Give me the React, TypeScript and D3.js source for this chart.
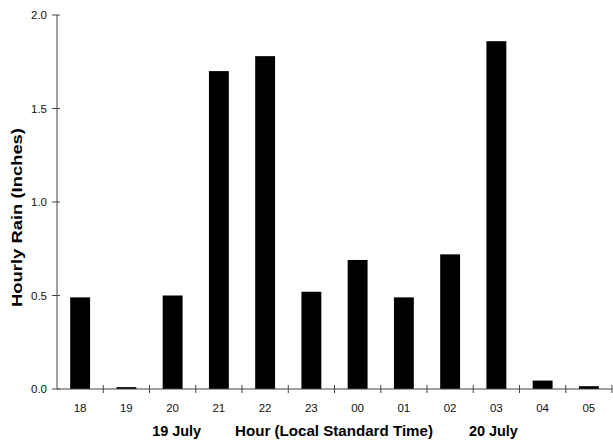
import React from 'react';
import * as d3 from 'd3';

const hours = ['18', '19', '20', '21', '22', '23', '00', '01', '02', '03', '04', '05'];
const rain = [0.49, 0.01, 0.5, 1.7, 1.78, 0.52, 0.69, 0.49, 0.72, 1.86, 0.045, 0.015];
const yTicks = [0, 0.5, 1.0, 1.5, 2.0];
const dateLabels = [
  { text: '19 July', at: '20' },
  { text: '20 July', at: '03' },
];

const W = 613;
const H = 442;
const margin = { top: 15, right: 1, bottom: 53, left: 57 };
// small nudges so the date labels sit where the original placed them
const dateNudge = [4, -3];

export default function App() {
  const x = d3.scaleBand<string>()
    .domain(hours)
    .range([margin.left, W - margin.right])
    .paddingInner(0.57)
    .paddingOuter(0.285);

  const y = d3.scaleLinear()
    .domain([0, 2])
    .range([H - margin.bottom, margin.top]);

  const step = x.step();
  const x0 = x.range()[0];
  const y0 = y(0);
  const fmt = d3.format('.1f');
  const font = 'Liberation Sans, Arial, Helvetica, sans-serif';

  return (
    <svg
      width={W}
      height={H}
      style={{ position: 'absolute', left: 0, top: 0, background: '#fff' }}
      fontFamily={font}
    >
      {/* bars */}
      {hours.map((h, i) => (
        <rect
          key={h}
          x={x(h)}
          y={y(rain[i])}
          width={x.bandwidth()}
          height={y0 - y(rain[i])}
          fill="#000"
        />
      ))}

      {/* y axis */}
      <line x1={x0} x2={x0} y1={y(2)} y2={y0} stroke="#444" strokeWidth={1} />
      {yTicks.map((t) => (
        <g key={t} transform={`translate(${x0},${y(t)})`}>
          <line x1={-5} x2={3} stroke="#444" />
          <text x={-10} dy="0.35em" textAnchor="end" fontSize={11.5} fill="#111">
            {fmt(t)}
          </text>
        </g>
      ))}

      {/* x axis */}
      <line x1={x0} x2={W - margin.right} y1={y0} y2={y0} stroke="#444" strokeWidth={1} />
      {hours.map((h, i) => (
        <line
          key={'t' + h}
          x1={x0 + (i + 1) * step}
          x2={x0 + (i + 1) * step}
          y1={y0 - 4}
          y2={y0 + 4}
          stroke="#444"
        />
      ))}
      {hours.map((h) => (
        <text
          key={'l' + h}
          x={x(h)! + x.bandwidth() / 2}
          y={412}
          textAnchor="middle"
          fontSize={11.5}
          fill="#111"
        >
          {h}
        </text>
      ))}

      {/* date and axis titles */}
      {dateLabels.map((d, i) => (
        <text
          key={d.text}
          x={x(d.at)! + x.bandwidth() / 2 + dateNudge[i]}
          y={436}
          textAnchor="middle"
          fontSize={14}
          fontWeight="bold"
          fill="#000"
          textLength={49}
          lengthAdjust="spacingAndGlyphs"
        >
          {d.text}
        </text>
      ))}
      <text
        x={235}
        y={436}
        fontSize={14}
        fontWeight="bold"
        fill="#000"
        textLength={198}
        lengthAdjust="spacingAndGlyphs"
      >
        Hour (Local Standard Time)
      </text>
      <text
        transform={`translate(22,307) rotate(-90)`}
        fontSize={14.5}
        fontWeight="bold"
        fill="#000"
        textLength={179}
        lengthAdjust="spacingAndGlyphs"
      >
        Hourly Rain (Inches)
      </text>
    </svg>
  );
}
